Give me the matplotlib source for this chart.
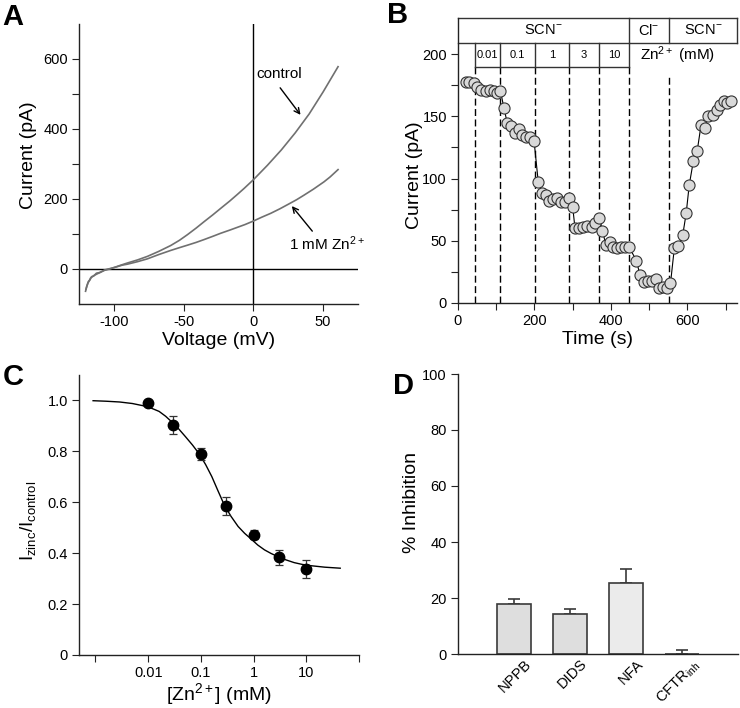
import numpy as np
import matplotlib
matplotlib.use('Agg')
import matplotlib.pyplot as plt
from matplotlib.transforms import ScaledTranslation

plt.rcParams['font.family'] = ['Liberation Sans', 'DejaVu Sans']
plt.rcParams['mathtext.fontset'] = 'custom'
plt.rcParams['mathtext.rm'] = 'Liberation Sans'
plt.rcParams['mathtext.it'] = 'Liberation Sans:italic'
plt.rcParams['mathtext.bf'] = 'Liberation Sans:bold'
plt.rcParams['axes.unicode_minus'] = False

# ---- panel A: I-V traces
ctrl_v = [-120.3, -119.5, -118.6, -117.5, -116.7, -114, -112, -109, -107, -103, -100,
          -95, -90.4, -83, -76, -68, -59.3, -53, -47.3, -41, -35.4, -29, -23.5, -17,
          -11.5, -6.7, 0, 10, 20, 30, 40, 50, 60.7]
ctrl_i = [-63.6, -50, -40, -33, -25.7, -18, -14, -8, -4, 0, 4,
          11, 17, 26, 36, 50, 67, 82, 98, 117, 135, 155, 173, 194,
          213, 230, 255, 296, 340, 389, 443, 506, 578]
zn_v = [-120.0, -119.2, -118.3, -117.0, -116.0, -114.5, -112.5, -110, -106, -102, -99,
        -94, -90, -83, -76, -68, -59.3, -53, -47.3, -41, -35.4, -29, -23.5, -17,
        -11.5, -6, 0, 6, 12.4, 19, 25.5, 31, 36.3, 43, 50.6, 55, 60.7]
zn_i = [-58, -47, -36, -30, -22, -20, -12, -10, -2, 2, 5,
        11, 14, 21, 29, 41, 53, 61, 68, 76, 84, 93.5, 102, 111,
        119, 127, 137, 148, 159, 172, 186, 198, 211, 228, 249, 263, 284]

# ---- panel B: time course
t_s = [20, 30, 41, 51, 61, 72, 83, 93, 102, 111, 120, 129, 139, 148, 159, 168, 179, 189, 199,
       210, 219, 230, 239, 249, 260, 269, 279, 290, 300,
       306, 317, 328, 338, 350, 358, 370,
       378, 387, 398, 406, 417, 427, 438, 448,
       467, 476, 487, 498, 508, 518, 526, 536, 546, 556,
       566, 576, 588, 597, 605, 616, 626, 636, 646, 655, 666, 677, 685, 696, 704, 713]
cur_pa = [177.8, 177.8, 177, 173.3, 171, 170.5, 171, 170, 168.5, 170.5, 157, 144.4, 142.2, 136.9,
          139.6, 135, 133.7, 133.7, 130.2,
          97.2, 88.6, 86.7, 82.2, 83.3, 84.6, 81.4, 81.4, 84.6, 77.4,
          60.5, 60.5, 61.3, 61.8, 61.3, 64.5, 68,
          58.1, 46.6, 49.3, 45.3, 43.9, 45.3, 44.7, 44.7,
          34, 22.5, 17.1, 17.7, 17.7, 19, 11.8, 13.1, 12.3, 15.8,
          43.9, 45.8, 54.6, 72, 94.8, 114.4, 122.5, 143, 140.5, 149.9, 151.2, 155, 159.2, 162,
          160.5, 162.5]
bounds = [43.6, 110.7, 200.5, 290.3, 368.8, 447.3, 551.9]
zn_conc = ['0.01', '0.1', '1', '3', '10']

# ---- panel C: dose response
zn_mm = [0.01, 0.03, 0.1, 0.3, 1, 3, 10]
ratio = [0.99, 0.904, 0.789, 0.584, 0.472, 0.384, 0.337]
ratio_err = [0.0, 0.035, 0.023, 0.035, 0.018, 0.03, 0.036]
fit_x = [0.0009, 0.00158, 0.00286, 0.005, 0.00904, 0.012, 0.0161, 0.0214, 0.0286, 0.038,
         0.0508, 0.0692, 0.0931, 0.123, 0.161, 0.211, 0.277, 0.372, 0.508, 0.676,
         0.904, 1.2, 1.61, 2.14, 2.86, 4.07, 5.87, 8.3, 12.0, 22.4, 44.0]
fit_y = [0.999, 0.997, 0.994, 0.988, 0.977, 0.968, 0.957, 0.938, 0.914, 0.888,
         0.858, 0.825, 0.790, 0.748, 0.701, 0.645, 0.590, 0.545, 0.505, 0.478,
         0.455, 0.432, 0.413, 0.399, 0.387, 0.374, 0.363, 0.356, 0.351, 0.345, 0.341]

# ---- panel D: inhibitors
drugs = ['NPPB', 'DIDS', 'NFA', r'CFTR$_{\mathrm{inh}}$']
inhib = [17.8, 14.2, 25.5, 0.0]
inhib_err = [1.7, 1.8, 4.9, 1.4]
bar_cols = ['#dedede', '#dedede', '#ebebeb', '#dedede']

W, H = 740, 708
fig = plt.figure(figsize=(W / 100, H / 100), dpi=100)


def box(l, t, r, b):
    return [l / W, 1 - b / H, (r - l) / W, (b - t) / H]


def style(ax):
    for s in ['top', 'right']:
        ax.spines[s].set_visible(False)
    for s in ['left', 'bottom']:
        ax.spines[s].set_linewidth(1.0)
        ax.spines[s].set_color('#222222')
    ax.tick_params(which='both', direction='out', length=5, width=0.8,
                   color='#222222', labelsize=10.5, pad=3)


lab_fs = 14

# A
axA = fig.add_axes(box(79, 24, 358, 304))
style(axA)
axA.axhline(0, color='black', lw=1.0)
axA.axvline(0, color='black', lw=1.0)
axA.plot(ctrl_v, ctrl_i, color='#707070', lw=1.2)
axA.plot(zn_v, zn_i, color='#707070', lw=1.2)
axA.set_xlim(-125, 75)
axA.set_ylim(-100, 700)
axA.set_xticks([-100, -50, 0, 50])
axA.set_yticks([0, 200, 400, 600])
axA.set_yticks([100, 300, 500], minor=True)
axA.set_xlabel('Voltage (mV)', fontsize=lab_fs, labelpad=2)
axA.set_ylabel('Current (pA)', fontsize=lab_fs)
axA.yaxis.set_label_coords(-0.15, 0.53)
axA.annotate('', xy=(35, 434), xytext=(18, 524),
             arrowprops=dict(arrowstyle='->', color='black', lw=1.0))
axA.text(2.4, 558, 'control', fontsize=11, ha='left', va='center')
axA.annotate('', xy=(26.3, 186), xytext=(43.5, 102),
             arrowprops=dict(arrowstyle='->', color='black', lw=1.0))
axA.text(25.3, 72, r'1 mM Zn$^{2+}$', fontsize=11, ha='left', va='center')

# B
axB = fig.add_axes(box(458, 18, 737, 303))
style(axB)
xr, ytop, yr1, yr2 = 730, 229, 209, 189.6
axB.set_xlim(0, xr)
axB.set_ylim(0, ytop)
dash = (0, (5, 2.5))
for b in bounds[:6]:
    axB.plot([b, b], [0, yr2], color='black', lw=1.0, ls=dash)
axB.plot([bounds[6], bounds[6]], [0, 183], color='black', lw=1.0, ls=dash)
kw = dict(color='#333333', lw=1.0, clip_on=False, solid_capstyle='projecting')
axB.plot([0, xr], [ytop, ytop], **kw)
axB.plot([0, xr], [yr1, yr1], **kw)
axB.plot([xr, xr], [yr1, ytop], **kw)
for b in bounds[5:7]:
    axB.plot([b, b], [yr1, ytop], **kw)
axB.plot([bounds[0], bounds[5]], [yr2, yr2], **kw)
for b in bounds[:6]:
    axB.plot([b, b], [yr2, yr1], **kw)
axB.text((0 + bounds[5]) / 2, (yr1 + ytop) / 2, r'SCN$^{-}$', fontsize=10.5, ha='center', va='center')
axB.text((bounds[5] + bounds[6]) / 2, (yr1 + ytop) / 2, r'Cl$^{-}$', fontsize=10.5, ha='center', va='center')
axB.text((bounds[6] + xr) / 2, (yr1 + ytop) / 2, r'SCN$^{-}$', fontsize=10.5, ha='center', va='center')
for i, c in enumerate(zn_conc):
    axB.text((bounds[i] + bounds[i + 1]) / 2, (yr2 + yr1) / 2, c, fontsize=8, ha='center', va='center')
axB.text(575, 199, r'Zn$^{2+}$ (mM)', fontsize=11, ha='center', va='center')
axB.plot(t_s, cur_pa, color='black', lw=0.8, marker='o', ms=8,
         mfc='#d9d9d9', mec='#333333', mew=0.8, zorder=3)
axB.set_xticks([0, 200, 400, 600])
axB.set_xticks([100, 300, 500, 700], minor=True)
axB.set_yticks([0, 50, 100, 150, 200])
axB.set_yticks([25, 75, 125, 175], minor=True)
axB.set_xlabel('Time (s)', fontsize=lab_fs, labelpad=2)
axB.set_ylabel('Current (pA)', fontsize=lab_fs)
axB.yaxis.set_label_coords(-0.125, 0.45)

# C
axC = fig.add_axes(box(79, 375, 359, 655))
style(axC)
axC.set_xscale('log')
axC.plot(fit_x, fit_y, color='black', lw=1.0)
axC.errorbar(zn_mm, ratio, yerr=ratio_err, fmt='o', color='black', ms=7.5,
             ecolor='#333333', elinewidth=0.9, capsize=3, capthick=0.9, zorder=3)
axC.set_xlim(10 ** -3.313, 100)
axC.set_ylim(0, 1.1)
axC.set_xticks([1e-3, 1e-2, 1e-1, 1, 10, 100])
axC.set_xticklabels(['', '0.01', '0.1', '1', '10', ''])
axC.xaxis.set_minor_locator(matplotlib.ticker.NullLocator())
axC.set_yticks([0, 0.2, 0.4, 0.6, 0.8, 1.0])
axC.set_yticklabels(['0', '0.2', '0.4', '0.6', '0.8', '1.0'])
axC.set_xlabel(r'[Zn$^{2+}$] (mM)', fontsize=lab_fs, labelpad=1)
axC.set_ylabel(r'I$_{\mathrm{zinc}}$/I$_{\mathrm{control}}$', fontsize=13.5)
axC.yaxis.set_label_coords(-0.146, 0.48)

# D
axD = fig.add_axes(box(458, 374, 738, 654))
style(axD)
pos = np.arange(1, len(drugs) + 1)
axD.bar(pos, inhib, width=0.6, color=bar_cols, edgecolor='#3a3a3a', lw=1.2, zorder=2)
axD.errorbar(pos, inhib, yerr=[np.zeros(len(inhib)), inhib_err], fmt='none',
             ecolor='#3a3a3a', elinewidth=1.2, capsize=4, capthick=1.2, zorder=1)
axD.set_xlim(0, 5)
axD.set_ylim(0, 100)
axD.set_yticks([0, 20, 40, 60, 80, 100])
axD.set_xticks(pos)
axD.set_xticklabels(drugs, rotation=45, ha='right', rotation_mode='anchor', fontsize=10.5)
axD.tick_params(axis='x', length=0, pad=2)
shift = ScaledTranslation(10 / 100, 0, fig.dpi_scale_trans)
for lab in axD.get_xticklabels():
    lab.set_transform(lab.get_transform() + shift)
axD.set_ylabel('% Inhibition', fontsize=lab_fs)
axD.yaxis.set_label_coords(-0.136, 0.54)

# panel letters
for x, y, s in [(2, 3, 'A'), (387, 1, 'B'), (3, 363, 'C'), (393, 372, 'D')]:
    fig.text(x / W, 1 - y / H, s, fontsize=21, fontweight='bold', ha='left', va='top')

fig.savefig('out.png', dpi=100)
